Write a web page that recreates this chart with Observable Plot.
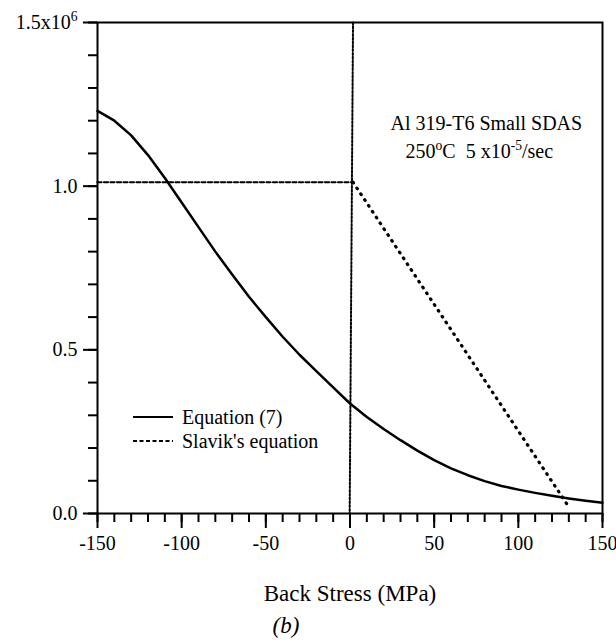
<!DOCTYPE html>
<html><head><meta charset="utf-8">
<script src="https://cdn.jsdelivr.net/npm/d3@7"></script>
<script src="https://cdn.jsdelivr.net/npm/@observablehq/plot@0.6"></script>
<style>
html,body{margin:0;padding:0;background:#fff}
svg{display:block}
svg, svg text, svg tspan{font-family:"Liberation Serif","Times New Roman",serif !important;}
</style>
</head><body><div id="chart"></div>
<script>
// ---- data ----
const backStress = [-150,-140,-130,-120,-110,-100,-90,-80,-70,-60,-50,-40,-30,-20,-10,0,10,20,30,40,50,60,70,80,90,100,110,120,130,140,150];
const equation7 = [1.23e6,1.20e6,1.155e6,1.095e6,1.025e6,0.95e6,0.875e6,0.80e6,0.73e6,0.662e6,0.60e6,0.54e6,0.485e6,0.435e6,0.385e6,0.336e6,0.295e6,0.258e6,0.224e6,0.192e6,0.163e6,0.138e6,0.117e6,0.099e6,0.084e6,0.073e6,0.063e6,0.054e6,0.046e6,0.039e6,0.033e6];
const slavikFlatX = [-150, 1.8];
const slavikFlatY = [1.012e6, 1.012e6];
const slavikSlopeX = [1.8, 130];
const slavikSlopeY = [1.012e6, 0.02e6];
const zeroLineX = [1.8, -0.2];
const zeroLineY = [1.5e6, 0];
const xMajorTicks = [-150,-100,-50,0,50,100,150];
const xMinorTicks = [-150,-140,-130,-120,-110,-100,-90,-80,-70,-60,-50,-40,-30,-20,-10,0,10,20,30,40,50,60,70,80,90,100,110,120,130,140,150];
const yMajorTicks = [0, 0.5e6, 1.0e6, 1.5e6];
const yTickLabels = ["0.0", "0.5", "1.0", "1.5x10^{6}"];
const yMinorTicks = [0,1e5,2e5,3e5,4e5,5e5,6e5,7e5,8e5,9e5,10e5,11e5,12e5,13e5,14e5,15e5];
const legendLabels = ["Equation (7)", "Slavik's equation"];
const legendDash = ["none", "4,2.5"];
const annotationLines = ["Al 319-T6 Small SDAS", "250^{o}C  5 x10^{-5}/sec"];
const xLabel = "Back Stress (MPa)";
const panelLabel = "(b)";

// ---- tables ----
const eqData = backStress.map((x, i) => ({x, y: equation7[i]}));
const flatData = slavikFlatX.map((x, i) => ({x, y: slavikFlatY[i]}));
const slopeData = slavikSlopeX.map((x, i) => ({x, y: slavikSlopeY[i]}));
const zeroData = zeroLineX.map((x, i) => ({x, y: zeroLineY[i]}));

const FONT = "Liberation Serif, Times New Roman, serif";

function legendMark() {
  return (index, scales, values, dims) => {
    const g = d3.create("svg:g").attr("text-anchor", "start");
    legendLabels.forEach((lab, i) => {
      const y = 417 + i * 24;
      const x0 = dims.marginLeft + 36;
      g.append("line").attr("x1", x0).attr("x2", x0 + 40).attr("y1", y).attr("y2", y)
        .attr("stroke", "black").attr("stroke-width", 2).attr("stroke-dasharray", legendDash[i]);
      g.append("text").attr("x", x0 + 49).attr("y", y).attr("dy", "0.33em")
        .attr("text-anchor", "start").attr("font-size", 20).attr("fill", "black").text(lab);
    });
    return g.node();
  };
}

const chart = Plot.plot({
  width: 616, height: 643,
  marginLeft: 97, marginRight: 14, marginTop: 22, marginBottom: 130,
  style: {fontFamily: FONT, background: "white", color: "black", fontSize: "20px"},
  x: {domain: [-150, 150]},
  y: {domain: [0, 1.5e6]},
  marks: [
    Plot.axisX({ticks: xMinorTicks, tickSize: 9, tickFormat: () => "", label: null, strokeWidth: 2}),
    Plot.axisX({ticks: xMajorTicks, tickSize: 15, tickPadding: 7, fontSize: 20, label: null, strokeWidth: 2, tickFormat: d => String(d)}),
    Plot.axisY({ticks: yMinorTicks, tickSize: 9, tickFormat: () => "", label: null, strokeWidth: 2}),
    Plot.axisY({ticks: yMajorTicks, tickSize: 14, tickPadding: 6, fontSize: 20, label: null, strokeWidth: 2,
      tickFormat: d => yTickLabels[yMajorTicks.indexOf(d)]}),
    Plot.frame({strokeWidth: 2}),
    Plot.line(zeroData, {x: "x", y: "y", stroke: "black", strokeWidth: 2, strokeDasharray: "2,1.8"}),
    Plot.line(flatData, {x: "x", y: "y", stroke: "black", strokeWidth: 2.2, strokeDasharray: "4,2.5"}),
    Plot.line(slopeData, {x: "x", y: "y", stroke: "black", strokeWidth: 3.2, strokeDasharray: "0.8,6.2", strokeLinecap: "round"}),
    Plot.line(eqData, {x: "x", y: "y", stroke: "black", strokeWidth: 2.5, curve: "linear"}),
    Plot.text([annotationLines[0]], {text: d => d, frameAnchor: "top-left", dx: 293, dy: 101, textAnchor: "start", lineAnchor: "middle", fontSize: 20}),
    Plot.text([annotationLines[1]], {text: d => d, frameAnchor: "top-left", dx: 308, dy: 129, textAnchor: "start", lineAnchor: "middle", fontSize: 20}),
    legendMark(),
    Plot.text([xLabel], {text: d => d, frameAnchor: "bottom", dy: 80, lineAnchor: "middle", fontSize: 23}),
    Plot.text([panelLabel], {text: d => d, frameAnchor: "bottom", dx: -64, dy: 112, lineAnchor: "middle", fontSize: 23, fontStyle: "italic"})
  ]
});
document.getElementById("chart").appendChild(chart);

// superscripts
const NS = "http://www.w3.org/2000/svg";
d3.select(chart).selectAll("text").each(function () {
  const targets = this.querySelectorAll("tspan").length ? Array.from(this.querySelectorAll("tspan")) : [this];
  targets.forEach(t => {
    const s = t.textContent;
    if (!s.includes("^{")) return;
    const fs = parseFloat(getComputedStyle(t).fontSize) || 20;
    const parts = s.split(/\^\{([^}]*)\}/);
    t.textContent = "";
    let shift = 0;
    parts.forEach((p, i) => {
      if (p === "") return;
      const sup = i % 2 === 1;
      const ts = document.createElementNS(NS, "tspan");
      const target = sup ? -fs * 0.42 : 0;
      ts.setAttribute("dy", target - shift);
      shift = target;
      if (sup) ts.setAttribute("font-size", fs * 0.68);
      ts.textContent = p;
      t.appendChild(ts);
    });
  });
});
</script>
</body></html>
